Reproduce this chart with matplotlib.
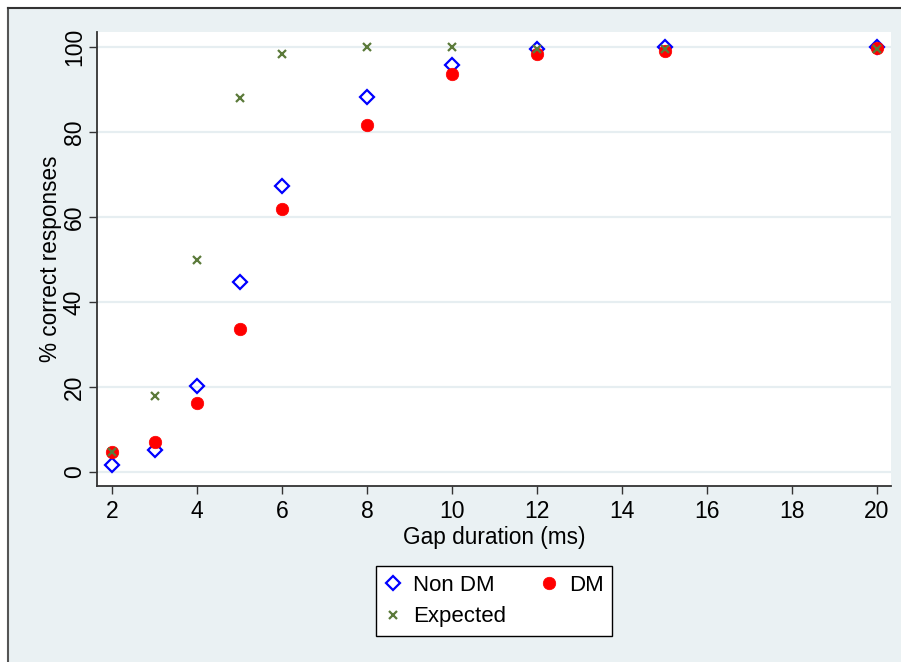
import matplotlib
matplotlib.use("Agg")
import matplotlib.pyplot as plt
from matplotlib.patches import Rectangle
from matplotlib.lines import Line2D

plt.rcParams['font.family'] = ['Liberation Sans', 'DejaVu Sans']

gap_ms = [2, 3, 4, 5, 6, 8, 10, 12, 15, 20]
non_dm = [1.6, 5.2, 20.2, 44.7, 67.3, 88.2, 95.8, 99.5, 99.9, 100.0]
dm = [4.7, 7.0, 16.3, 33.6, 62.0, 81.7, 93.6, 98.3, 99.0, 99.7]
expected = [4.7, 17.9, 50.0, 88.1, 98.3, 100.0, 100.0, 99.6, 99.6, 99.6]
x_ticks = [2, 4, 6, 8, 10, 12, 14, 16, 18, 20]
y_ticks = [0, 20, 40, 60, 80, 100]

W, H = 901, 662
bg = '#EAF1F3'
fig = plt.figure(figsize=(W / 100, H / 100), dpi=100, facecolor=bg)

# white margins at top and left, with the dark border line
fig.patches.append(Rectangle((0, (H - 8) / H), 1, 8 / H, transform=fig.transFigure,
                             facecolor='white', edgecolor='none', zorder=-10))
fig.patches.append(Rectangle((0, 0), 8 / W, 1, transform=fig.transFigure,
                             facecolor='white', edgecolor='none', zorder=-10))
fig.lines.append(Line2D([8 / W, 8 / W], [0, (H - 8) / H], transform=fig.transFigure,
                        color='#555555', lw=1.5, zorder=-5))
fig.lines.append(Line2D([8 / W, 1], [(H - 8) / H, (H - 8) / H], transform=fig.transFigure,
                        color='#333333', lw=1.5, zorder=-5))

left, right, top, bottom = 97, 891, 32, 486
ax = fig.add_axes([left / W, (H - bottom) / H, (right - left) / W, (bottom - top) / H])
ax.set_facecolor('white')

ax.plot(gap_ms, non_dm, linestyle='none', marker='D', markersize=7.2, markerfacecolor='none',
        markeredgecolor='#0000FF', markeredgewidth=1.6, label='Non DM', zorder=3)
ax.plot(gap_ms, dm, linestyle='none', marker='o', markersize=9, markerfacecolor='#FF0000',
        markeredgecolor='#FF0000', markeredgewidth=0.5, label='DM', zorder=4)
ax.plot(gap_ms, expected, linestyle='none', marker='x', markersize=5.5, color='#5B7A3A',
        markeredgewidth=1.6, label='Expected', zorder=5)

ax.set_xlim(2 - 15 / 42.5, 20 + 14 / 42.5)
ax.set_ylim(-14 / 4.25, 100 + 15 / 4.25)
ax.set_xticks(x_ticks)
ax.set_yticks(y_ticks)
ax.grid(axis='y', color='#E6EEF1', lw=1.6, zorder=0)
ax.set_axisbelow(True)

for s in ['top', 'right']:
    ax.spines[s].set_visible(False)
for s in ['left', 'bottom']:
    ax.spines[s].set_color('#333333')
    ax.spines[s].set_linewidth(1.3)

ax.tick_params(axis='both', length=6, width=1, color='#333333', labelsize=16.5, direction='out')
ax.tick_params(axis='x', pad=4)
ax.tick_params(axis='y', pad=2)
for lab in ax.get_yticklabels():
    lab.set_rotation(90)
    lab.set_va('center')

ax.set_xlabel('Gap duration (ms)', fontsize=16.3, labelpad=2)
ax.set_ylabel('% correct responses', fontsize=16.3, labelpad=0.5)

h = ax.get_legend_handles_labels()[0]
handles = [h[0], h[2], h[1]]
labels = ['Non DM', 'Expected', 'DM']
leg = fig.legend(handles, labels, loc='center', bbox_to_anchor=(494 / W, (H - 601) / H),
                 ncol=2, fontsize=16, frameon=True, fancybox=False, framealpha=1,
                 handlelength=0.8, handletextpad=0.5, columnspacing=1.5, borderpad=0.4,
                 labelspacing=0.48, borderaxespad=0)
leg.get_frame().set_edgecolor('black')
leg.get_frame().set_linewidth(1.0)
leg.get_frame().set_facecolor('white')

fig.savefig('out.png', dpi=100, facecolor=fig.get_facecolor())
